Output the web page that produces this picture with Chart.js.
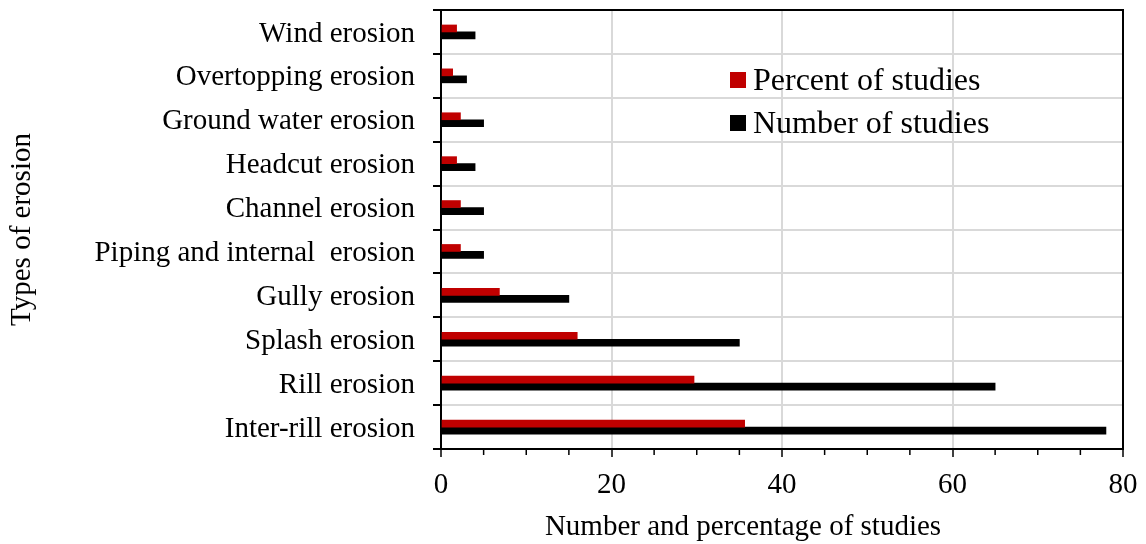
<!DOCTYPE html>
<html>
<head>
<meta charset="utf-8">
<script src="https://cdn.jsdelivr.net/npm/chart.js@4"></script>
<style>
  body { margin: 0; background: #fff; }
  #wrap { position: relative; width: 1146px; height: 544px; }
  #legend { position: absolute; left: 730px; top: 58px; font-family: 'Liberation Serif', 'Times New Roman', serif; font-size: 32px; color: #000; }
  #legend .item { display: flex; align-items: center; height: 43px; }
  #legend .box { width: 16px; height: 16px; margin-right: 7px; }
</style>
</head>
<body>
<div id="wrap">
  <canvas id="chart"></canvas>
  <div id="legend"></div>
</div>
<script>
const categories = [
  'Wind erosion', 'Overtopping erosion', 'Ground water erosion', 'Headcut erosion',
  'Channel erosion', 'Piping and internal  erosion', 'Gully erosion', 'Splash erosion',
  'Rill erosion', 'Inter-rill erosion'
];
const percentOfStudies = [1.83, 1.37, 2.28, 1.83, 2.28, 2.28, 6.85, 15.98, 29.68, 35.62];
const numberOfStudies = [4, 3, 5, 4, 5, 5, 15, 35, 65, 78];
const xTicks = [0, 20, 40, 60, 80];

const FONT = "'Liberation Serif', 'Times New Roman', serif";
const GRID = '#d9d9d9';

// plot frame (top/right) + minor ticks + x title
const framePlugin = {
  id: 'frame',
  afterDraw(chart) {
    const { ctx, chartArea: a } = chart;
    const xs = chart.scales.x;
    ctx.save();
    ctx.strokeStyle = '#000';
    ctx.lineWidth = 2;
    ctx.beginPath();
    ctx.moveTo(a.left, a.top);
    ctx.lineTo(a.right, a.top);
    ctx.lineTo(a.right, a.bottom);
    ctx.stroke();
    // minor ticks
    ctx.lineWidth = 1.5;
    xs.ticks.forEach(t => {
      if (xTicks.includes(t.value)) return;
      const x = xs.getPixelForValue(t.value);
      ctx.beginPath();
      ctx.moveTo(x, a.bottom);
      ctx.lineTo(x, a.bottom + 6);
      ctx.stroke();
    });
    ctx.fillStyle = '#000';
    ctx.font = '29px ' + FONT;
    ctx.textAlign = 'center';
    ctx.textBaseline = 'middle';
    ctx.fillText('Number and percentage of studies', 743, 527);
    ctx.restore();
  }
};

const chart = new Chart(document.getElementById('chart'), {
  type: 'bar',
  data: {
    labels: categories,
    datasets: [
      { label: 'Percent of studies', data: percentOfStudies, backgroundColor: '#c00000', barThickness: 7 },
      { label: 'Number of studies', data: numberOfStudies, backgroundColor: '#000000', barThickness: 7 }
    ]
  },
  options: {
    indexAxis: 'y',
    responsive: true,
    maintainAspectRatio: false,
    animation: false,
    layout: { padding: { top: 10, right: 23, bottom: 0, left: 0 } },
    plugins: {
      legend: { display: false },
      tooltip: { enabled: false }
    },
    scales: {
      x: {
        min: 0,
        max: 80,
        afterFit: (s) => { s.height = 95; s.paddingLeft = 0; s.paddingRight = 0; },
        ticks: {
          stepSize: 5,
          autoSkip: false,
          maxRotation: 0,
          padding: 11,
          color: '#000',
          font: { family: FONT, size: 29 },
          callback: (v) => xTicks.includes(v) ? v : ''
        },
        grid: {
          color: (c) => xTicks.includes(c.tick.value) ? GRID : 'rgba(0,0,0,0)',
          lineWidth: 2,
          tickLength: 8,
          tickWidth: 1.5,
          tickColor: (c) => xTicks.includes(c.tick.value) ? '#000' : 'rgba(0,0,0,0)'
        },
        border: { color: '#000', width: 2 }
      },
      y: {
        afterFit: (s) => { s.width = 441; s.paddingTop = 0; s.paddingBottom = 0; },
        ticks: {
          padding: 18,
          labelOffset: 2,
          color: '#000',
          font: { family: FONT, size: 29 }
        },
        grid: {
          color: GRID,
          lineWidth: 2,
          tickLength: 8,
          tickWidth: 2,
          tickColor: '#000'
        },
        border: { color: '#000', width: 2 },
        title: {
          display: true,
          text: 'Types of erosion',
          color: '#000',
          font: { family: FONT, size: 29 },
          padding: { top: 5, bottom: 0 }
        }
      }
    }
  },
  plugins: [framePlugin]
});

// legend
const legendEl = document.getElementById('legend');
chart.data.datasets.forEach(ds => {
  const item = document.createElement('div');
  item.className = 'item';
  item.innerHTML = `<span class="box" style="background:${ds.backgroundColor}"></span><span>${ds.label}</span>`;
  legendEl.appendChild(item);
});
</script>
</body>
</html>
